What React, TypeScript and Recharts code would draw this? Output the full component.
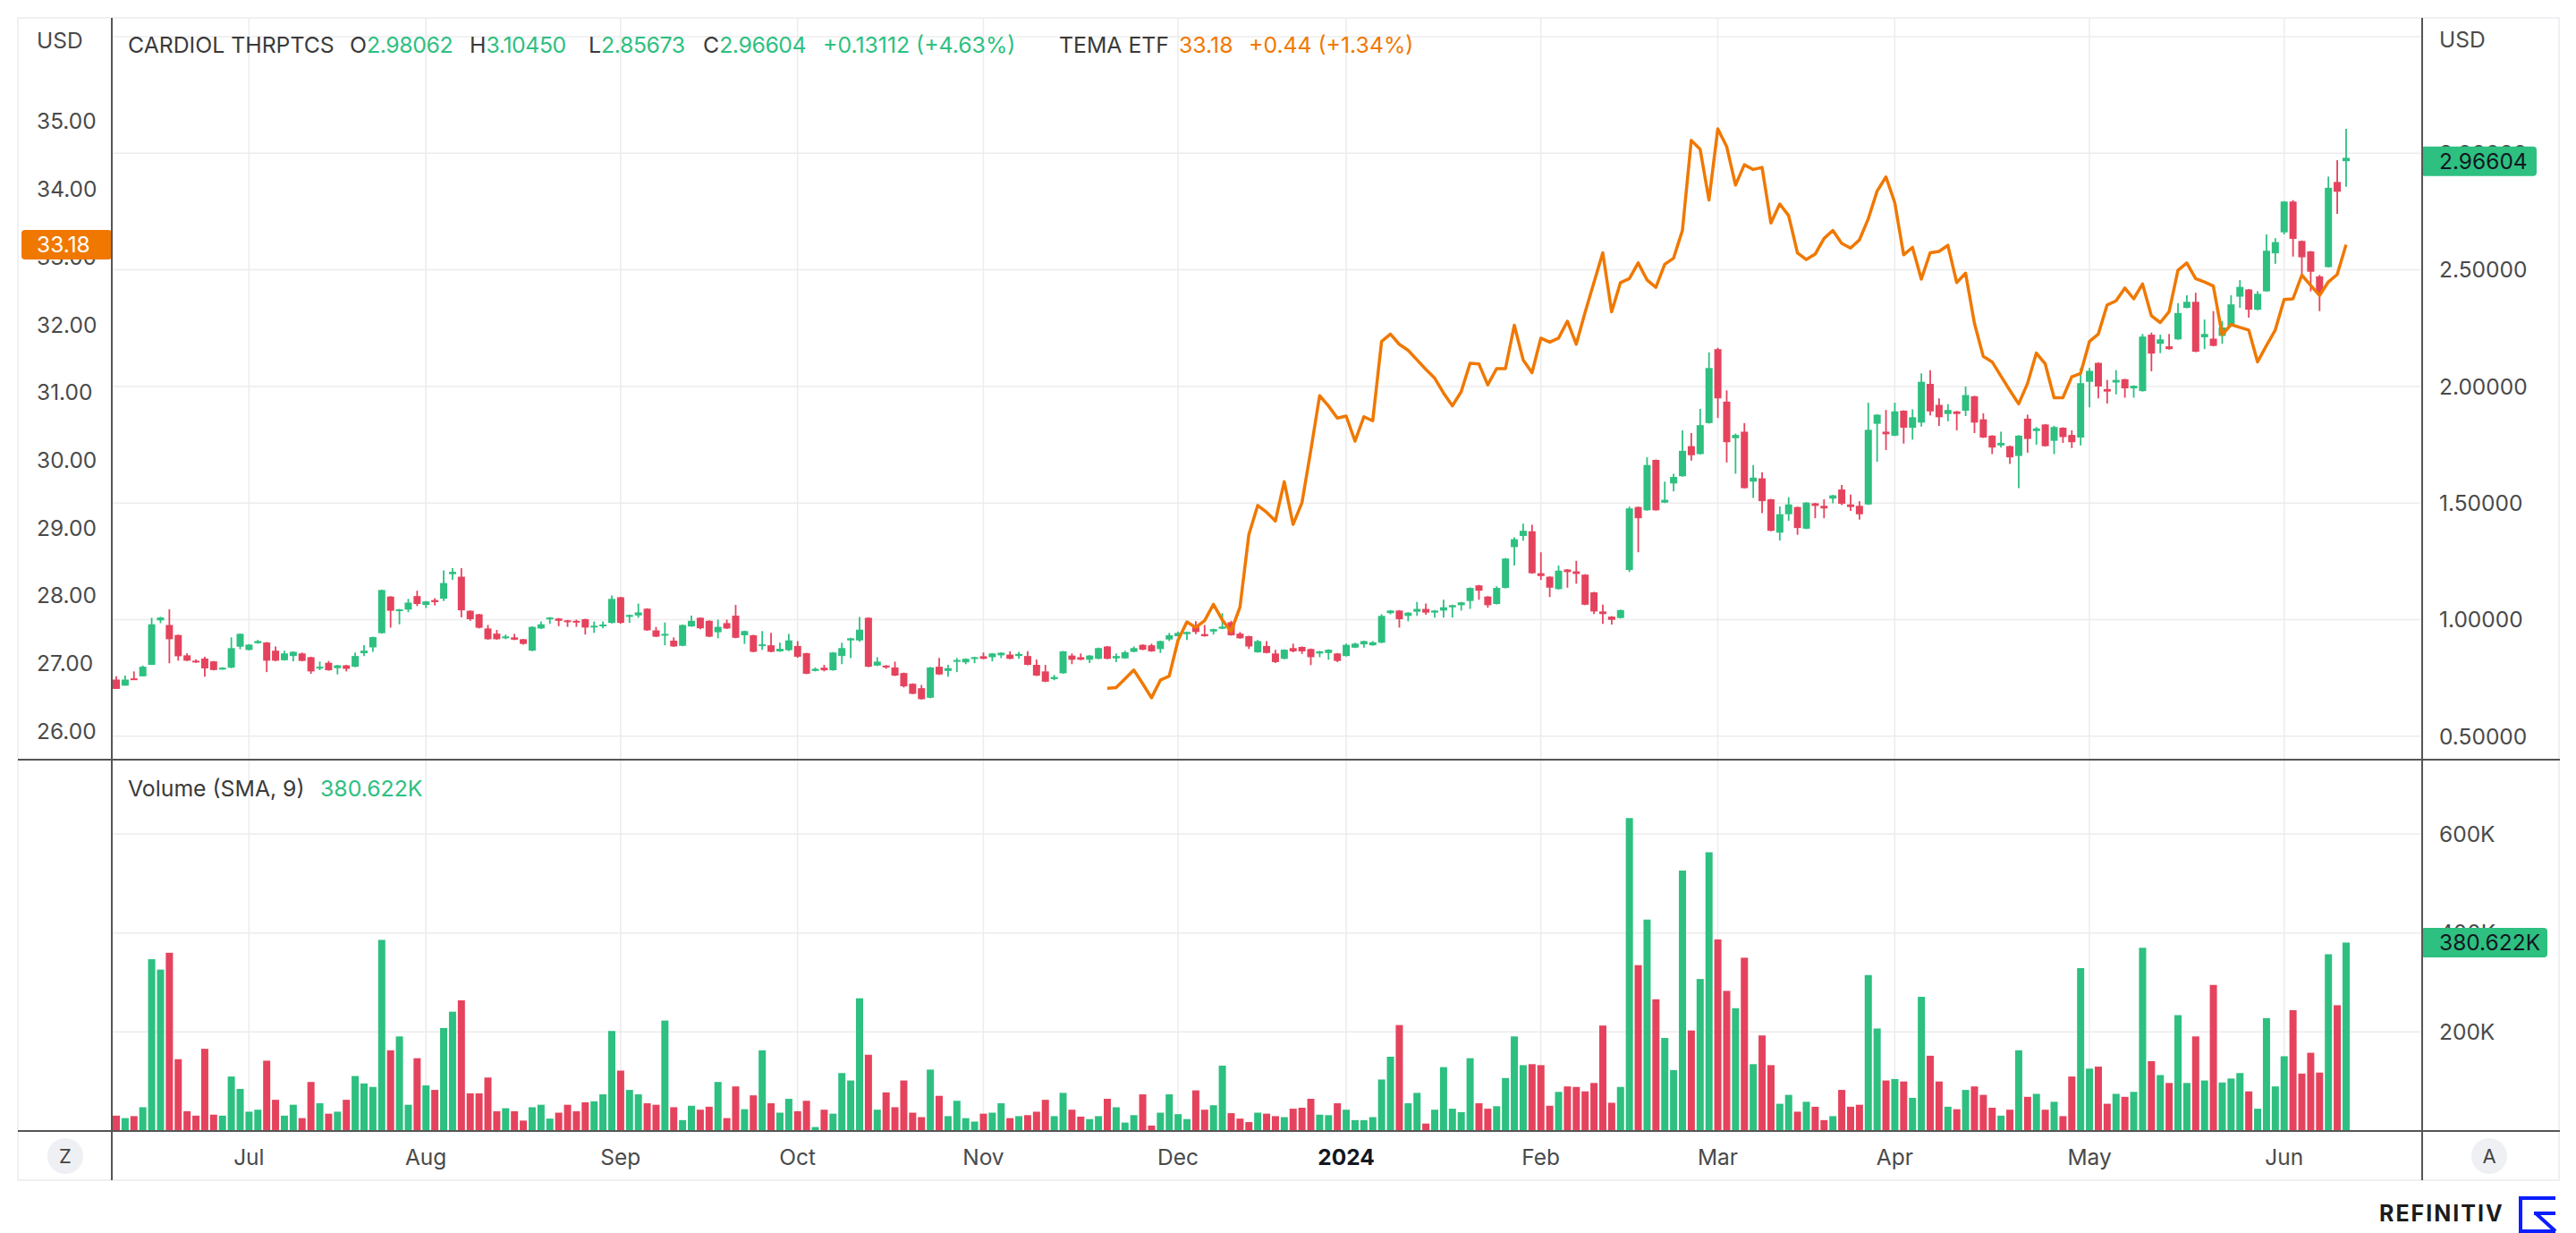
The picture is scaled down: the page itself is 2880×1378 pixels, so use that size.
import React from 'react';
import { ComposedChart, Bar, Line, XAxis, YAxis, CartesianGrid } from 'recharts';

const GREEN = '#2dc080';
const RED = '#e5435d';
const ORANGE = '#f07800';
const AXIS = '#555555';
const GRID = '#ececec';
const LABEL = '#4a4a4a';
const FONT = 'Inter, "Noto Sans", "Liberation Sans", sans-serif';
const AX_FS = 24.5;
const LEG_FS = 24.8;

// ---- Cardiol Therapeutics daily OHLC (USD) ----
const openV = [
  0.743, 0.717, 0.748, 0.757, 0.806, 0.997, 0.977, 0.934, 0.847, 0.824,
  0.833, 0.821, 0.786, 0.794, 0.884, 0.870, 0.899, 0.902, 0.867, 0.826,
  0.844, 0.855, 0.839, 0.792, 0.815, 0.792, 0.804, 0.798, 0.856, 0.881,
  0.942, 1.099, 1.038, 1.043, 1.101, 1.063, 1.084, 1.090, 1.195, 1.184,
  1.038, 1.023, 0.962, 0.940, 0.920, 0.924, 0.916, 0.867, 0.962, 1.003,
  1.005, 0.997, 0.995, 1.002, 0.968, 0.972, 0.986, 1.096, 1.012, 1.018,
  1.047, 0.954, 0.933, 0.910, 0.888, 0.971, 1.008, 0.995, 0.946, 0.985,
  1.017, 0.933, 0.933, 0.888, 0.890, 0.864, 0.869, 0.887, 0.856, 0.780,
  0.794, 0.783, 0.844, 0.911, 0.911, 1.008, 0.803, 0.803, 0.795, 0.771,
  0.725, 0.706, 0.665, 0.798, 0.780, 0.820, 0.817, 0.833, 0.843, 0.839,
  0.847, 0.850, 0.844, 0.844, 0.806, 0.778, 0.745, 0.770, 0.846, 0.839,
  0.828, 0.832, 0.885, 0.834, 0.834, 0.862, 0.892, 0.890, 0.874, 0.915,
  0.929, 0.938, 0.970, 0.938, 0.949, 0.961, 0.989, 0.940, 0.929, 0.860,
  0.887, 0.855, 0.832, 0.878, 0.883, 0.874, 0.855, 0.857, 0.855, 0.844,
  0.880, 0.894, 0.890, 0.901, 1.028, 1.039, 1.016, 1.034, 1.046, 1.030,
  1.039, 1.053, 1.062, 1.080, 1.147, 1.099, 1.067, 1.136, 1.311, 1.359,
  1.379, 1.199, 1.184, 1.131, 1.215, 1.207, 1.193, 1.117, 1.035, 1.013,
  1.007, 1.213, 1.483, 1.469, 1.685, 1.502, 1.584, 1.615, 1.744, 1.710,
  1.843, 2.160, 1.935, 1.778, 1.806, 1.592, 1.606, 1.516, 1.373, 1.452,
  1.483, 1.390, 1.499, 1.488, 1.519, 1.558, 1.494, 1.488, 1.494, 1.840,
  1.806, 1.789, 1.896, 1.823, 1.845, 2.011, 1.921, 1.882, 1.893, 1.896,
  1.958, 1.859, 1.789, 1.747, 1.744, 1.702, 1.862, 1.809, 1.837, 1.767,
  1.823, 1.792, 1.781, 2.020, 2.101, 1.989, 2.017, 2.031, 1.992, 1.980,
  2.222, 2.183, 2.172, 2.202, 2.337, 2.363, 2.211, 2.205, 2.217, 2.259,
  2.385, 2.416, 2.329, 2.408, 2.571, 2.661, 2.793, 2.624, 2.579, 2.472,
  2.512, 2.877, 2.98062,
];

const highV = [
  0.757, 0.760, 0.778, 0.803, 1.008, 1.012, 1.044, 0.936, 0.856, 0.829,
  0.841, 0.823, 0.796, 0.924, 0.941, 0.895, 0.913, 0.904, 0.885, 0.867,
  0.864, 0.859, 0.841, 0.820, 0.823, 0.806, 0.806, 0.859, 0.891, 0.927,
  1.129, 1.101, 1.046, 1.089, 1.124, 1.080, 1.092, 1.211, 1.221, 1.221,
  1.040, 1.025, 0.977, 0.956, 0.936, 0.939, 0.918, 0.971, 0.992, 1.011,
  1.007, 0.999, 1.000, 1.004, 0.992, 0.992, 1.104, 1.098, 1.022, 1.069,
  1.049, 0.969, 0.988, 0.924, 0.979, 1.017, 1.010, 0.997, 1.000, 1.000,
  1.063, 0.953, 0.935, 0.951, 0.943, 0.901, 0.939, 0.908, 0.858, 0.795,
  0.806, 0.861, 0.901, 0.922, 1.012, 1.010, 0.839, 0.805, 0.820, 0.773,
  0.727, 0.720, 0.797, 0.836, 0.806, 0.836, 0.834, 0.841, 0.859, 0.857,
  0.860, 0.864, 0.862, 0.865, 0.829, 0.806, 0.763, 0.866, 0.855, 0.855,
  0.848, 0.880, 0.887, 0.855, 0.867, 0.885, 0.894, 0.897, 0.910, 0.943,
  0.949, 0.949, 0.993, 0.977, 0.961, 1.028, 0.995, 0.947, 0.931, 0.913,
  0.908, 0.871, 0.873, 0.897, 0.885, 0.876, 0.866, 0.873, 0.857, 0.897,
  0.901, 0.910, 0.908, 1.023, 1.041, 1.041, 1.032, 1.076, 1.069, 1.041,
  1.085, 1.064, 1.076, 1.138, 1.149, 1.101, 1.143, 1.264, 1.353, 1.412,
  1.407, 1.289, 1.186, 1.232, 1.217, 1.252, 1.195, 1.119, 1.064, 1.015,
  1.043, 1.485, 1.485, 1.696, 1.687, 1.592, 1.626, 1.812, 1.800, 1.904,
  2.146, 2.166, 1.983, 1.798, 1.843, 1.663, 1.632, 1.518, 1.485, 1.525,
  1.485, 1.504, 1.501, 1.516, 1.535, 1.578, 1.536, 1.508, 1.930, 1.881,
  1.899, 1.930, 1.898, 1.902, 2.056, 2.070, 1.949, 1.924, 1.895, 2.000,
  1.960, 1.885, 1.791, 1.806, 1.746, 1.791, 1.879, 1.826, 1.839, 1.831,
  1.825, 1.812, 2.079, 2.079, 2.103, 2.028, 2.070, 2.033, 2.005, 2.225,
  2.231, 2.222, 2.225, 2.357, 2.391, 2.402, 2.287, 2.323, 2.281, 2.391,
  2.456, 2.418, 2.408, 2.652, 2.636, 2.795, 2.799, 2.626, 2.581, 2.478,
  2.900, 2.970, 3.10450,
];

const lowV = [
  0.703, 0.717, 0.742, 0.757, 0.806, 0.985, 0.813, 0.824, 0.822, 0.815,
  0.755, 0.782, 0.785, 0.792, 0.873, 0.868, 0.897, 0.775, 0.822, 0.824,
  0.821, 0.821, 0.768, 0.783, 0.781, 0.765, 0.778, 0.796, 0.844, 0.862,
  0.940, 0.966, 0.980, 1.032, 1.058, 1.050, 1.061, 1.080, 1.171, 1.010,
  0.995, 0.962, 0.914, 0.914, 0.916, 0.912, 0.893, 0.865, 0.960, 0.982,
  0.972, 0.969, 0.969, 0.936, 0.943, 0.963, 0.984, 0.982, 0.986, 1.008,
  0.952, 0.925, 0.890, 0.883, 0.886, 0.969, 0.959, 0.925, 0.920, 0.960,
  0.920, 0.896, 0.860, 0.870, 0.860, 0.862, 0.865, 0.836, 0.766, 0.778,
  0.778, 0.781, 0.809, 0.835, 0.905, 0.796, 0.801, 0.789, 0.758, 0.709,
  0.680, 0.657, 0.663, 0.763, 0.755, 0.775, 0.809, 0.813, 0.830, 0.821,
  0.835, 0.830, 0.832, 0.804, 0.758, 0.732, 0.740, 0.768, 0.809, 0.826,
  0.814, 0.830, 0.830, 0.818, 0.832, 0.860, 0.869, 0.862, 0.857, 0.908,
  0.927, 0.913, 0.938, 0.927, 0.936, 0.959, 0.931, 0.918, 0.874, 0.858,
  0.855, 0.814, 0.830, 0.860, 0.853, 0.805, 0.839, 0.828, 0.818, 0.842,
  0.878, 0.880, 0.888, 0.899, 1.023, 0.966, 0.993, 1.016, 1.021, 1.009,
  1.009, 1.009, 1.039, 1.046, 1.085, 1.051, 1.065, 1.134, 1.232, 1.339,
  1.197, 1.170, 1.097, 1.129, 1.137, 1.154, 1.062, 1.024, 0.982, 0.979,
  1.005, 1.204, 1.289, 1.467, 1.467, 1.500, 1.550, 1.613, 1.682, 1.708,
  1.841, 1.865, 1.674, 1.626, 1.562, 1.522, 1.457, 1.379, 1.339, 1.424,
  1.364, 1.388, 1.435, 1.435, 1.499, 1.491, 1.466, 1.429, 1.492, 1.677,
  1.727, 1.787, 1.755, 1.772, 1.828, 1.876, 1.831, 1.851, 1.812, 1.873,
  1.800, 1.779, 1.710, 1.738, 1.668, 1.564, 1.716, 1.750, 1.742, 1.710,
  1.758, 1.736, 1.747, 1.910, 1.949, 1.927, 1.966, 1.952, 1.952, 1.978,
  2.065, 2.143, 2.158, 2.200, 2.335, 2.147, 2.160, 2.172, 2.183, 2.257,
  2.337, 2.295, 2.327, 2.406, 2.526, 2.652, 2.557, 2.470, 2.408, 2.323,
  2.510, 2.740, 2.85673,
];

const closeV = [
  0.703, 0.743, 0.742, 0.798, 0.980, 1.009, 0.916, 0.843, 0.824, 0.817,
  0.791, 0.784, 0.794, 0.878, 0.939, 0.893, 0.908, 0.824, 0.824, 0.855,
  0.862, 0.823, 0.778, 0.798, 0.783, 0.804, 0.789, 0.844, 0.867, 0.925,
  1.127, 1.038, 1.044, 1.073, 1.067, 1.078, 1.075, 1.157, 1.205, 1.040,
  1.002, 0.965, 0.916, 0.916, 0.928, 0.914, 0.896, 0.969, 0.980, 1.009,
  0.995, 0.989, 0.989, 0.966, 0.974, 0.979, 1.089, 0.986, 1.020, 1.031,
  0.954, 0.927, 0.939, 0.885, 0.977, 0.995, 0.963, 0.927, 0.969, 0.962,
  0.922, 0.951, 0.862, 0.894, 0.862, 0.875, 0.911, 0.841, 0.768, 0.789,
  0.783, 0.859, 0.878, 0.920, 0.957, 0.798, 0.820, 0.795, 0.760, 0.714,
  0.682, 0.659, 0.795, 0.765, 0.792, 0.827, 0.832, 0.839, 0.832, 0.855,
  0.858, 0.832, 0.853, 0.806, 0.760, 0.734, 0.754, 0.864, 0.828, 0.828,
  0.846, 0.878, 0.832, 0.844, 0.860, 0.878, 0.871, 0.864, 0.908, 0.933,
  0.943, 0.947, 0.947, 0.929, 0.959, 0.970, 0.933, 0.920, 0.885, 0.908,
  0.857, 0.818, 0.871, 0.864, 0.864, 0.839, 0.864, 0.871, 0.823, 0.892,
  0.897, 0.908, 0.903, 1.016, 1.039, 1.002, 1.030, 1.046, 1.030, 1.039,
  1.053, 1.062, 1.074, 1.136, 1.124, 1.062, 1.136, 1.262, 1.345, 1.381,
  1.199, 1.187, 1.137, 1.210, 1.204, 1.196, 1.064, 1.035, 1.024, 0.999,
  1.041, 1.477, 1.435, 1.663, 1.469, 1.514, 1.612, 1.724, 1.705, 1.834,
  2.079, 1.949, 1.761, 1.792, 1.564, 1.609, 1.508, 1.381, 1.452, 1.494,
  1.393, 1.502, 1.488, 1.477, 1.533, 1.497, 1.483, 1.452, 1.814, 1.879,
  1.795, 1.893, 1.823, 1.868, 2.020, 1.893, 1.868, 1.899, 1.882, 1.963,
  1.845, 1.781, 1.738, 1.758, 1.696, 1.789, 1.775, 1.820, 1.744, 1.826,
  1.783, 1.761, 2.014, 2.067, 2.000, 1.978, 2.028, 1.992, 2.003, 2.214,
  2.141, 2.202, 2.160, 2.315, 2.363, 2.149, 2.225, 2.174, 2.253, 2.352,
  2.427, 2.329, 2.397, 2.582, 2.619, 2.793, 2.633, 2.554, 2.492, 2.402,
  2.852, 2.83492, 2.96604,
];

// ---- daily volume, thousands of shares ----
const volumeK = [
  31, 26, 30, 48, 347, 326, 360, 145, 40, 31,
  166, 33, 31, 110, 85, 39, 43, 142, 63, 31,
  53, 26, 99, 56, 35, 39, 63, 111, 96, 89,
  386, 163, 191, 53, 147, 92, 83, 208, 241, 264,
  76, 76, 108, 40, 46, 40, 21, 48, 53, 25,
  37, 53, 40, 58, 60, 74, 202, 122, 83, 74,
  56, 53, 223, 48, 22, 51, 43, 49, 99, 26,
  90, 44, 72, 163, 56, 37, 65, 40, 61, 8,
  43, 35, 117, 102, 268, 154, 43, 78, 48, 102,
  37, 28, 124, 71, 30, 61, 26, 19, 35, 37,
  56, 26, 30, 32, 39, 63, 30, 77, 43, 29,
  24, 30, 65, 48, 17, 32, 74, 11, 37, 74,
  34, 24, 82, 43, 52, 132, 36, 25, 18, 37,
  35, 30, 28, 45, 47, 65, 33, 32, 56, 43,
  22, 22, 28, 104, 150, 214, 56, 77, 15, 43,
  129, 45, 38, 147, 56, 45, 50, 107, 191, 133,
  135, 133, 51, 79, 90, 89, 80, 97, 213, 57,
  89, 632, 335, 427, 266, 188, 123, 526, 203, 307,
  563, 387, 283, 248, 350, 135, 193, 133, 55, 73,
  39, 59, 49, 22, 30, 83, 49, 53, 315, 207,
  102, 105, 100, 67, 271, 152, 100, 49, 44, 83,
  90, 73, 47, 31, 43, 163, 69, 75, 43, 59,
  30, 110, 329, 126, 130, 55, 75, 69, 79, 370,
  141, 113, 97, 234, 97, 191, 102, 295, 98, 106,
  117, 80, 45, 228, 90, 151, 244, 116, 158, 118,
  357, 254, 380.622,
];

// ---- TEMA ETF close (USD), starts at session index 112 ----
const TEMA_START = 112;
const temaV = [
  26.63, 26.64, 26.77, 26.90, 26.70, 26.49, 26.75, 26.81, 27.34, 27.61,
  27.53, 27.63, 27.87, 27.64, 27.47, 27.83, 28.90, 29.33, 29.23, 29.10,
  29.68, 29.05, 29.37, 30.14, 30.95, 30.80, 30.62, 30.65, 30.28, 30.64,
  30.58, 31.75, 31.86, 31.71, 31.62, 31.48, 31.34, 31.21, 30.99, 30.80,
  31.01, 31.43, 31.42, 31.11, 31.35, 31.35, 31.99, 31.48, 31.29, 31.80,
  31.74, 31.80, 32.05, 31.71, 32.18, 32.62, 33.06, 32.19, 32.62, 32.68,
  32.91, 32.66, 32.55, 32.89, 32.98, 33.39, 34.72, 34.59, 33.84, 34.89,
  34.63, 34.06, 34.36, 34.29, 34.32, 33.50, 33.78, 33.61, 33.06, 32.96,
  33.04, 33.27, 33.39, 33.20, 33.13, 33.25, 33.56, 33.97, 34.18, 33.80,
  33.03, 33.14, 32.67, 33.06, 33.08, 33.17, 32.62, 32.76, 32.02, 31.53,
  31.45, 31.24, 31.03, 30.83, 31.13, 31.58, 31.42, 30.92, 30.92, 31.23,
  31.28, 31.75, 31.86, 32.29, 32.35, 32.54, 32.38, 32.60, 32.13, 32.03,
  32.19, 32.80, 32.91, 32.68, 32.63, 32.57, 31.85, 32.00, 31.96, 31.92,
  31.45, 31.69, 31.92, 32.37, 32.38, 32.73, 32.58, 32.43, 32.63, 32.74,
  33.18,
];

// ---- axis ticks / labels ----
const monthTicks = [15, 35, 57, 77, 98, 120, 139, 161, 181, 201, 223, 245];
const monthLabels = ['Jul', 'Aug', 'Sep', 'Oct', 'Nov', 'Dec', '2024', 'Feb', 'Mar', 'Apr', 'May', 'Jun'];
const temaTicks = [26, 27, 28, 29, 30, 31, 32, 33, 34, 35];
const crdlTicks = [0.5, 1, 1.5, 2, 2.5, 3, 3.5];
const volTicks = [200000, 400000, 600000];

const X_DOMAIN: [number, number] = [-0.5, 260.6];
const TEMA_DOMAIN: [number, number] = [25.577, 36.528];
const CRDL_DOMAIN: [number, number] = [0.3995, 3.5806];
const VOL_DOMAIN: [number, number] = [0, 750000];

// candle colour: close vs open; near-doji sessions use close vs prior close
const isUp = (i: number) => {
  const o = openV[i];
  const c = closeV[i];
  if (Math.abs(c - o) / o < 0.006 && i > 0) return c > closeV[i - 1];
  return c >= o;
};

const rows = closeV.map((c, i) => ({
  i,
  open: openV[i],
  high: highV[i],
  low: lowV[i],
  close: c,
  up: isUp(i),
  vol: volumeK[i] * 1000,
  tema: i >= TEMA_START ? temaV[i - TEMA_START] : null,
}));

const LAST = rows.length - 1;
const LAST_CLOSE = closeV[LAST];
const LAST_TEMA = temaV[temaV.length - 1];
const LAST_VOL = volumeK[LAST] * 1000;
const PREV_TEMA = temaV[temaV.length - 2];

const Candle = (props: any) => {
  const { x, y, width, height, payload } = props;
  if (!payload || x == null) return null;
  const top = Math.min(y, y + height);
  const h = Math.abs(height);
  const span = payload.high - payload.low;
  const py = (v: number) => (span > 0 ? top + ((payload.high - v) / span) * h : top);
  const color = payload.up ? GREEN : RED;
  const cx = x + width / 2;
  const b1 = py(Math.max(payload.open, payload.close));
  const b2 = py(Math.min(payload.open, payload.close));
  return (
    <g>
      <line x1={cx} x2={cx} y1={top} y2={top + h} stroke={color} strokeWidth={1.8} />
      <rect x={x} y={b1} width={width} height={Math.max(b2 - b1, 2)} fill={color} />
    </g>
  );
};

const VolBar = (props: any) => {
  const { x, y, width, height, payload } = props;
  if (!payload || x == null) return null;
  const top = Math.min(y, y + height);
  return <rect x={x} y={top} width={width} height={Math.abs(height)} fill={payload.up ? GREEN : RED} />;
};

const LeftTick = (p: any) => (
  <text x={21} y={p.y} dy="0.36em" fontSize={AX_FS} fill={LABEL} fontFamily={FONT}>
    {p.payload.value.toFixed(2)}
  </text>
);

const LeftBadgeTick = (p: any) => (
  <g>
    <rect x={4} y={p.y - 16.5} width={101} height={33} rx={4} fill={ORANGE} />
    <text x={21} y={p.y} dy="0.36em" fontSize={AX_FS} fill="#ffffff" fontFamily={FONT}>
      {p.payload.value.toFixed(2)}
    </text>
  </g>
);

const RightTick = (p: any) => {
  const v = p.payload.value;
  if (v > 3.2) return null;
  return (
    <text x={2707} y={p.y} dy="0.36em" fontSize={AX_FS} fill={LABEL} fontFamily={FONT}>
      {v.toFixed(5)}
    </text>
  );
};

const RightBadgeTick = (p: any) => (
  <g>
    <rect x={2687} y={p.y - 16.5} width={129} height={33} rx={4} fill={GREEN} />
    <text x={2707} y={p.y} dy="0.36em" fontSize={AX_FS} fill="#131722" fontFamily={FONT}>
      {p.payload.value.toFixed(5)}
    </text>
  </g>
);

const VolTick = (p: any) => (
  <text x={2707} y={p.y} dy="0.36em" fontSize={AX_FS} fill={LABEL} fontFamily={FONT}>
    {Math.round(p.payload.value / 1000)}K
  </text>
);

const VolBadgeTick = (p: any) => (
  <g>
    <rect x={2687} y={p.y - 16.5} width={141} height={33} rx={4} fill={GREEN} />
    <text x={2707} y={p.y} dy="0.36em" fontSize={AX_FS} fill="#131722" fontFamily={FONT}>
      {(p.payload.value / 1000).toFixed(3)}K
    </text>
  </g>
);

const MonthTick = (p: any) => {
  const idx = monthTicks.indexOf(p.payload.value);
  const lab = monthLabels[idx];
  const bold = lab === '2024';
  return (
    <text
      x={p.x}
      y={444}
      dy="0.36em"
      textAnchor="middle"
      fontSize={AX_FS}
      fontWeight={bold ? 700 : 400}
      fill={bold ? '#131722' : LABEL}
      fontFamily={FONT}
    >
      {lab}
    </text>
  );
};

const T = ({ x, y, color = '#3a3a3a', size = LEG_FS, weight = 400, children, spacing = 0 }: any) => (
  <div
    style={{
      position: 'absolute',
      left: x,
      top: y,
      transform: 'translateY(-50%)',
      color,
      fontSize: size,
      fontWeight: weight,
      fontFamily: FONT,
      whiteSpace: 'nowrap',
      lineHeight: 1,
      letterSpacing: spacing,
    }}
  >
    {children}
  </div>
);

const fmtChg = (d: number, base: number, digits: number) =>
  `${d >= 0 ? '+' : ''}${d.toFixed(digits)} (${d >= 0 ? '+' : ''}${((d / base) * 100).toFixed(2)}%)`;

export default function App() {
  const prevClose = closeV[LAST - 1];
  const chg = LAST_CLOSE - prevClose;
  const temaChg = LAST_TEMA - PREV_TEMA;
  const line = (style: any) => <div style={{ position: 'absolute', background: AXIS, ...style }} />;
  const circleBtn = (left: number, label: string) => (
    <div
      style={{
        position: 'absolute', left, top: 1272, width: 40, height: 40, borderRadius: 20,
        background: '#eff0f3', display: 'flex', alignItems: 'center', justifyContent: 'center',
        fontSize: 22, color: '#444', fontFamily: FONT,
      }}
    >
      {label}
    </div>
  );
  const numStyle = { color: GREEN, letterSpacing: -0.4 };
  return (
    <div
      style={{
        position: 'absolute',
        left: 0,
        top: 0,
        width: 2880,
        height: 1378,
        background: '#ffffff',
        fontFamily: FONT,
        overflow: 'hidden',
      }}
    >
      <div
        style={{
          position: 'absolute',
          left: 19,
          top: 19,
          width: 2843,
          height: 1301,
          border: '2px solid #eef0f3',
          boxSizing: 'border-box',
        }}
      />

      {/* price panel */}
      <div style={{ position: 'absolute', left: 20, top: 20 }}>
        <ComposedChart width={2842} height={829} data={rows} margin={{ top: 0, right: 0, bottom: 0, left: 0 }}>
          <CartesianGrid stroke={GRID} strokeWidth={1.5} horizontalValues={crdlTicks} verticalValues={monthTicks} />
          <XAxis type="number" dataKey="i" domain={X_DOMAIN} allowDataOverflow ticks={monthTicks} interval={0} hide />
          <YAxis
            yAxisId={0}
            orientation="right"
            width={153}
            domain={CRDL_DOMAIN}
            allowDataOverflow
            ticks={crdlTicks}
            interval={0}
            axisLine={false}
            tickLine={false}
            tick={<RightTick />}
          />
          <YAxis
            yAxisId="crdlBadge"
            orientation="right"
            width={1}
            domain={CRDL_DOMAIN}
            allowDataOverflow
            ticks={[LAST_CLOSE]}
            interval={0}
            axisLine={false}
            tickLine={false}
            tick={<RightBadgeTick />}
          />
          <YAxis
            yAxisId="tema"
            orientation="left"
            width={104}
            domain={TEMA_DOMAIN}
            allowDataOverflow
            ticks={temaTicks}
            interval={0}
            axisLine={false}
            tickLine={false}
            tick={<LeftTick />}
          />
          <YAxis
            yAxisId="temaBadge"
            orientation="left"
            width={1}
            domain={TEMA_DOMAIN}
            allowDataOverflow
            ticks={[LAST_TEMA]}
            interval={0}
            axisLine={false}
            tickLine={false}
            tick={<LeftBadgeTick />}
          />
          <Bar
            yAxisId={0}
            dataKey={(d: any) => [d.low, d.high]}
            barSize={8}
            shape={<Candle />}
            isAnimationActive={false}
          />
          <Line
            yAxisId="tema"
            type="linear"
            dataKey="tema"
            stroke={ORANGE}
            strokeWidth={3.5}
            strokeLinejoin="round"
            dot={false}
            activeDot={false}
            connectNulls={false}
            isAnimationActive={false}
          />
        </ComposedChart>
      </div>

      {/* volume panel */}
      <div style={{ position: 'absolute', left: 20, top: 849 }}>
        <ComposedChart width={2842} height={470} data={rows} margin={{ top: 0, right: 0, bottom: 0, left: 0 }}>
          <CartesianGrid stroke={GRID} strokeWidth={1.5} horizontalValues={volTicks} verticalValues={monthTicks} />
          <XAxis
            type="number"
            dataKey="i"
            domain={X_DOMAIN}
            allowDataOverflow
            ticks={monthTicks}
            interval={0}
            height={55}
            axisLine={false}
            tickLine={false}
            tick={<MonthTick />}
          />
          <YAxis
            yAxisId={0}
            orientation="right"
            width={153}
            domain={VOL_DOMAIN}
            allowDataOverflow
            ticks={volTicks}
            interval={0}
            axisLine={false}
            tickLine={false}
            tick={<VolTick />}
          />
          <YAxis
            yAxisId="volBadge"
            orientation="right"
            width={1}
            domain={VOL_DOMAIN}
            allowDataOverflow
            ticks={[LAST_VOL]}
            interval={0}
            axisLine={false}
            tickLine={false}
            tick={<VolBadgeTick />}
          />
          <YAxis yAxisId="pad" orientation="left" width={105} axisLine={false} tickLine={false} tick={false} />
          <Bar yAxisId={0} dataKey="vol" barSize={8} shape={<VolBar />} isAnimationActive={false} />
        </ComposedChart>
      </div>

      {/* panel frame lines */}
      {line({ left: 124, top: 20, width: 2, height: 1299 })}
      {line({ left: 2707, top: 20, width: 2, height: 1299 })}
      {line({ left: 20, top: 848, width: 2842, height: 2 })}
      {line({ left: 20, top: 1263, width: 2842, height: 2 })}

      {/* currency labels */}
      <T x={41} y={45} color={LABEL} size={AX_FS}>USD</T>
      <T x={2727} y={44} color={LABEL} size={AX_FS}>USD</T>

      {/* legend */}
      <T x={143} y={50}>CARDIOL THRPTCS</T>
      <T x={391} y={50}>O<span style={numStyle}>{openV[LAST].toFixed(5)}</span></T>
      <T x={525} y={50}>H<span style={numStyle}>{highV[LAST].toFixed(5)}</span></T>
      <T x={658} y={50}>L<span style={numStyle}>{lowV[LAST].toFixed(5)}</span></T>
      <T x={786} y={50}>C<span style={numStyle}>{LAST_CLOSE.toFixed(5)}</span></T>
      <T x={920} y={50} color={GREEN}>{fmtChg(chg, prevClose, 5)}</T>
      <T x={1184} y={50}>TEMA ETF</T>
      <T x={1318} y={50} color={ORANGE}>{LAST_TEMA.toFixed(2)}</T>
      <T x={1396} y={50} color={ORANGE}>{fmtChg(temaChg, PREV_TEMA, 2)}</T>

      <T x={143} y={881}>Volume (SMA, 9)</T>
      <T x={358} y={881} color={GREEN}>{`${(LAST_VOL / 1000).toFixed(3)}K`}</T>

      {/* scale buttons */}
      {circleBtn(53, 'Z')}
      {circleBtn(2763, 'A')}

      {/* branding */}
      <T x={2660} y={1356} color="#1c1c1c" size={25} weight={700} spacing={2}>REFINITIV</T>
      <svg style={{ position: 'absolute', left: 2816, top: 1337 }} width={44} height={41}>
        <rect x={0} y={0} width={41} height={4} fill="#0a1eff" />
        <rect x={0} y={0} width={4} height={41} fill="#0a1eff" />
        <rect x={0} y={37} width={41} height={4} fill="#0a1eff" />
        <rect x={17} y={17} width={24} height={4} fill="#0a1eff" />
        <line x1={19} y1={19} x2={41} y2={39} stroke="#0a1eff" strokeWidth={4} />
      </svg>
    </div>
  );
}
